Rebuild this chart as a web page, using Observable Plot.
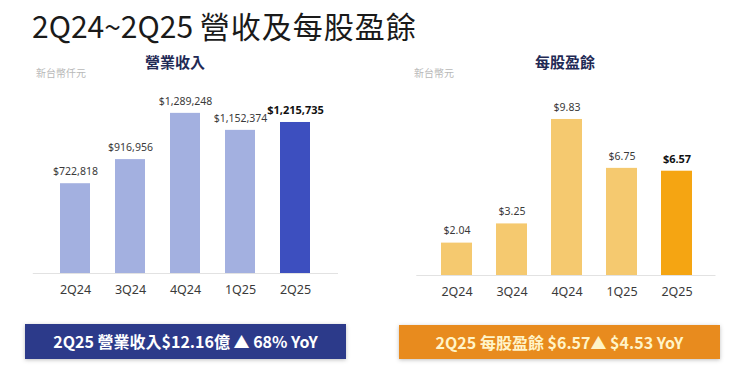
<!DOCTYPE html>
<html>
<head>
<meta charset="utf-8">
<script src="https://cdn.jsdelivr.net/npm/d3@7"></script>
<script src="https://cdn.jsdelivr.net/npm/@observablehq/plot@0.6"></script>
<style>
  html, body { margin: 0; padding: 0; background: #ffffff; }
  body { width: 740px; height: 368px; overflow: hidden; font-family: "Noto Sans CJK TC", "Noto Sans", sans-serif; }
  #wrap { position: relative; width: 740px; height: 368px; }
  .abs { position: absolute; white-space: nowrap; }
  #title { left: 32px; top: 7px; font-size: 30px; line-height: 36px; color: #1a1a1a; }
  #title .cjk { letter-spacing: 1px; }
  .sub { font-size: 15px; font-weight: bold; color: #1f2a55; transform: translateX(-50%); line-height: 20px; }
  .unit { font-size: 10px; color: #b8b8b8; line-height: 12px; }
  .banner { height: 35px; line-height: 35px; text-align: center; font-size: 16px; font-weight: bold; box-shadow: 0 1px 4px rgba(0,0,0,0.25); }
  #chartL, #chartR { position: absolute; top: 90px; }
  #chartL { left: 0px; }
  #chartR { left: 370px; }
</style>
</head>
<body>
<div id="wrap">
  <div id="title" class="abs"><span>2Q24~2Q25 </span><span class="cjk">營收及每股盈餘</span></div>
  <div class="abs sub" style="left:175px; top:52px;">營業收入</div>
  <div class="abs sub" style="left:565px; top:52px;">每股盈餘</div>
  <div class="abs unit" style="left:36px; top:67px;">新台幣仟元</div>
  <div class="abs unit" style="left:414px; top:67px;">新台幣元</div>
  <div id="chartL"></div>
  <div id="chartR"></div>
  <div class="abs banner" style="left:25px; top:324px; width:321px; background:#2c3a8a; color:#ffffff;">2Q25 營業收入$12.16億 ▲ 68% YoY</div>
  <div class="abs banner" style="left:399px; top:325px; width:321px; height:34px; line-height:34px; background:#e88b1e; color:#fff4c8;">2Q25 每股盈餘 $6.57▲ $4.53 YoY</div>
</div>
<script>
const quarters = ["2Q24", "3Q24", "4Q24", "1Q25", "2Q25"];
const revenue = [722818, 916956, 1289248, 1152374, 1215735];
const eps = [2.04, 3.25, 9.83, 6.75, 6.57];
const highlight = "2Q25";

const revData = quarters.map((q, i) => ({q, v: revenue[i], label: "$" + d3.format(",")(revenue[i]), hl: q === highlight}));
const epsData = quarters.map((q, i) => ({q, v: eps[i], label: "$" + eps[i].toFixed(2), hl: q === highlight}));

function chart(data, opts) {
  return Plot.plot({
    width: 370,
    height: 220,
    marginTop: opts.mt, marginBottom: opts.mb, marginLeft: opts.ml, marginRight: opts.mr,
    style: {fontFamily: "'Noto Sans', 'Noto Sans CJK TC', sans-serif", background: "transparent", overflow: "visible"},
    x: {domain: quarters, padding: opts.pad, label: null},
    y: {domain: opts.yDomain, axis: null},
    marks: [
      Plot.ruleY([0], {stroke: "#e2e2e2", strokeWidth: 1}),
      Plot.barY(data, {x: "q", y: "v", fill: d => d.hl ? opts.hlColor : opts.color}),
      Plot.text(data.filter(d => !d.hl), {x: "q", y: "v", text: "label", dy: -12, fontSize: 10.5, fill: "#3a3a3a"}),
      Plot.text(data.filter(d => d.hl), {x: "q", y: "v", text: "label", dy: -12, fontSize: 11, fontWeight: "bold", fill: "#111"}),
      Plot.axisX({tickSize: 0, tickPadding: 12, fontSize: 12.5, color: "#3a3a3a", label: null})
    ]
  });
}

document.getElementById("chartL").append(chart(revData, {
  ml: 32.8, mr: 32, mt: 9.1, mb: 37, pad: 0.45,
  yDomain: [0, 1400000],
  color: "#a3b0e0", hlColor: "#3d4fbf"
}));
document.getElementById("chartR").append(chart(epsData, {
  ml: 46.3, mr: 24.5, mt: 10.4, mb: 35, pad: 0.44,
  yDomain: [0, 11],
  color: "#f5c96f", hlColor: "#f5a512"
}));
</script>
</body>
</html>
